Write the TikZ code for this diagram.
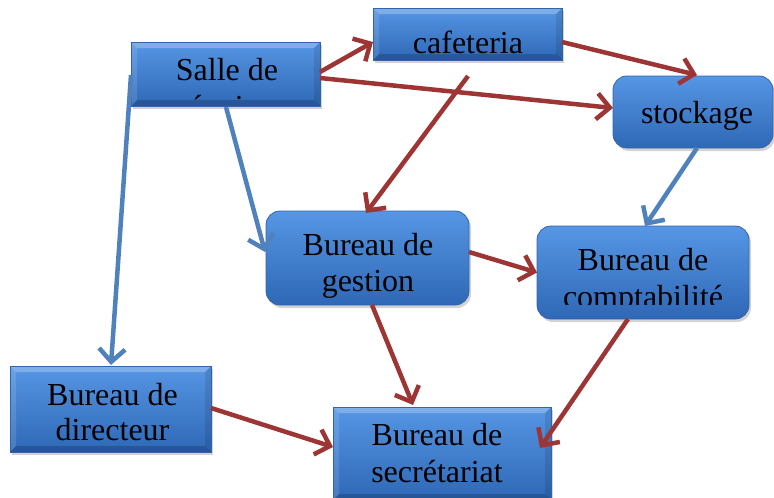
\documentclass[tikz,border=0pt]{standalone}
\usepackage{fontspec}
\setmainfont{Liberation Serif}
\usetikzlibrary{arrows.meta,calc,shadows}
\definecolor{arrred}{RGB}{157,53,52}
\definecolor{arrblue}{RGB}{79,129,189}
\definecolor{boxtop}{RGB}{86,150,228}
\definecolor{boxmid}{RGB}{62,126,206}
\definecolor{boxbot}{RGB}{46,104,182}
\definecolor{boxline}{RGB}{52,100,168}
\begin{document}
\begin{tikzpicture}[x=1pt,y=-1pt,
  box/.style={draw=boxline, line width=0.8pt, top color=boxtop, middle color=boxmid, bottom color=boxbot, inner sep=0pt,
    drop shadow={opacity=0.35, shadow xshift=2pt, shadow yshift=-3pt}},
  sbox/.style={box, path picture={
    \fill[white,opacity=.25] (path picture bounding box.north west) -- (path picture bounding box.north east)
      -- ([xshift=-6pt,yshift=-6pt]path picture bounding box.north east) -- ([xshift=6pt,yshift=-6pt]path picture bounding box.north west) -- cycle;
    \fill[white,opacity=.12] (path picture bounding box.north west) -- ([xshift=6pt,yshift=-6pt]path picture bounding box.north west)
      -- ([xshift=6pt,yshift=6pt]path picture bounding box.south west) -- (path picture bounding box.south west) -- cycle;
    \fill[black,opacity=.18] (path picture bounding box.south west) -- (path picture bounding box.south east)
      -- ([xshift=-6pt,yshift=6pt]path picture bounding box.south east) -- ([xshift=6pt,yshift=6pt]path picture bounding box.south west) -- cycle;
    \fill[black,opacity=.10] (path picture bounding box.north east) -- ([xshift=-6pt,yshift=-6pt]path picture bounding box.north east)
      -- ([xshift=-6pt,yshift=6pt]path picture bounding box.south east) -- (path picture bounding box.south east) -- cycle;
  }},
  rbox/.style={box, rounded corners=14pt},
  txt/.style={anchor=base, inner sep=0pt, font=\fontsize{32}{37}\selectfont},
  redarr/.style={draw=arrred, line width=4.5pt, -{Straight Barb[length=13pt,width=26pt]}},
  bluearr/.style={draw=arrblue, line width=4.5pt, -{Straight Barb[length=13pt,width=26pt]}}]
\useasboundingbox (0,0) rectangle (774,498);

% boxes
\node[sbox, minimum width=189pt, minimum height=64pt] (salle) at (225.5,74) {};
\node[sbox, minimum width=189pt, minimum height=52pt] (cafe) at (467.5,34) {};
\node[rbox, minimum width=160pt, minimum height=72pt] (stock) at (693,112) {};
\node[rbox, minimum width=203pt, minimum height=94pt] (gestion) at (367.5,258) {};
\node[rbox, minimum width=212pt, minimum height=93pt] (compta) at (643,272.5) {};
\node[sbox, minimum width=201pt, minimum height=86pt] (direct) at (110.5,409) {};
\node[sbox, minimum width=218pt, minimum height=93pt] (secr) at (442,453.5) {};

% texts
\begin{scope}
  \clip (salle.north west) rectangle ($(salle.south east)+(0,-6)$);
  \node[txt] (salleA) at ($(salle.center)+(1.5,6)$) {Salle de};
  \node[txt] (salleB) at ($(salle.center)+(1.5,43)$) {réunion};
\end{scope}
\node[txt] (cafeA) at ($(cafe.center)+(0.5,19)$) {cafeteria};
\node[txt] (stockA) at ($(stock.center)+(4,11)$) {stockage};
\begin{scope}
  \clip (gestion.north west) rectangle ($(gestion.south east)+(0,-7)$);
  \node[txt] (gestionA) at ($(gestion.center)+(0.5,-3)$) {Bureau de};
  \node[txt] (gestionB) at ($(gestion.center)+(0.5,33)$) {gestion};
\end{scope}
\begin{scope}
  \clip (compta.north west) rectangle ($(compta.south east)+(0,-15)$);
  \node[txt] (comptaA) at ($(compta.center)+(0,-2.5)$) {Bureau de};
  \node[txt] (comptaB) at ($(compta.center)+(0,34.5)$) {comptabilité};
\end{scope}
\node[txt] (directA) at ($(direct.center)+(2,-4)$) {Bureau de};
\node[txt] (directB) at ($(direct.center)+(2,31)$) {directeur};
\node[txt] (secrA) at ($(secr.center)+(-5,-8.5)$) {Bureau de};
\node[txt] (secrB) at ($(secr.center)+(-5,28.5)$) {secrétariat};

% connectors
\draw[redarr] ($(salle.center)+(94.5,-2)$) -- ($(cafe.center)+(-94.5,8)$);
\draw[redarr] ($(cafe.center)+(94.5,8)$) -- ($(stock.center)+(4,-37)$);
\draw[redarr] ($(salle.center)+(94.5,4)$) -- ($(stock.center)+(-80,-4)$);
\draw[redarr] ($(cafe.center)+(0.5,42)$) -- ($(gestion.center)+(-1.5,-45)$);
\draw[bluearr] ($(salle.center)+(0.5,33)$) -- ($(gestion.center)+(-102.5,-6)$);
\draw[bluearr] ($(salle.center)+(-94.5,1)$) -- ($(direct.center)+(0.5,-44)$);
\draw[bluearr] ($(stock.center)+(4,36)$) -- ($(compta.center)+(2,-46.5)$);
\draw[redarr] ($(gestion.center)+(101.5,-6)$) -- ($(compta.center)+(-106,0)$);
\draw[redarr] ($(gestion.center)+(4.5,47)$) -- ($(secr.center)+(-29,-48.5)$);
\draw[redarr] ($(direct.center)+(100.5,-1)$) -- ($(secr.center)+(-109,-6.5)$);
\draw[redarr] ($(compta.center)+(-15,46.5)$) -- ($(secr.center)+(98,-5.5)$);
\end{tikzpicture}
\end{document}
